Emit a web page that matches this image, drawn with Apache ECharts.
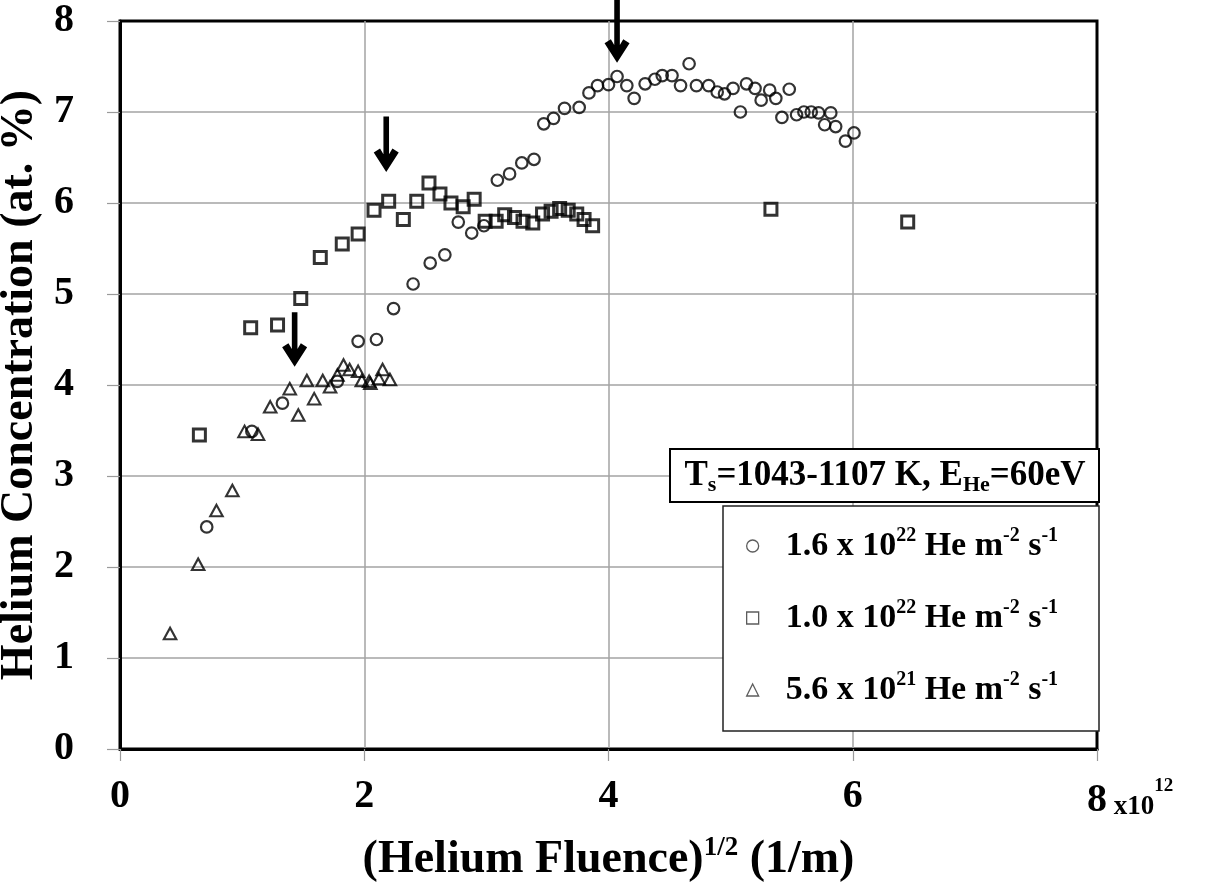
<!DOCTYPE html>
<html>
<head>
<meta charset="utf-8">
<script src="https://cdn.jsdelivr.net/npm/echarts@6/dist/echarts.min.js"></script>
<style>
  html, body { margin: 0; padding: 0; background: #fff; }
  #chart { width: 1210px; height: 886px; }
</style>
</head>
<body>
<div id="chart"></div>
<script>
// x: (helium fluence)^1/2 in units of 1e12 m^-1, y: helium concentration (at. %)
const flux16 = [
  [0.71, 2.44], [1.08, 3.49], [1.33, 3.80], [1.78, 4.04], [1.95, 4.48], [2.10, 4.50],
  [2.24, 4.84], [2.40, 5.11], [2.54, 5.34], [2.66, 5.43], [2.77, 5.79], [2.88, 5.67],
  [2.98, 5.75], [3.09, 6.25], [3.19, 6.32], [3.29, 6.44], [3.39, 6.48], [3.47, 6.87],
  [3.55, 6.93], [3.64, 7.04], [3.76, 7.05], [3.84, 7.21], [3.91, 7.29], [4.00, 7.30],
  [4.07, 7.39], [4.15, 7.29], [4.21, 7.15], [4.30, 7.31], [4.38, 7.36], [4.44, 7.40],
  [4.52, 7.40], [4.59, 7.29], [4.66, 7.53], [4.72, 7.29], [4.82, 7.29], [4.89, 7.22],
  [4.95, 7.20], [5.02, 7.26], [5.08, 7.00], [5.13, 7.31], [5.20, 7.26], [5.25, 7.13],
  [5.32, 7.24], [5.37, 7.15], [5.42, 6.94], [5.48, 7.25], [5.54, 6.97], [5.60, 7.00],
  [5.66, 7.00], [5.72, 6.99], [5.77, 6.86], [5.82, 6.99], [5.86, 6.84], [5.94, 6.68],
  [6.01, 6.77]
];
const flux10 = [
  [0.65, 3.45], [1.07, 4.63], [1.29, 4.66], [1.48, 4.95], [1.64, 5.40], [1.82, 5.55],
  [1.95, 5.66], [2.08, 5.92], [2.20, 6.02], [2.32, 5.82], [2.43, 6.02], [2.53, 6.22],
  [2.62, 6.10], [2.71, 6.00], [2.81, 5.96], [2.90, 6.04], [2.99, 5.80], [3.08, 5.80],
  [3.15, 5.87], [3.23, 5.84], [3.30, 5.80], [3.38, 5.78], [3.46, 5.88], [3.53, 5.91],
  [3.60, 5.94], [3.67, 5.92], [3.74, 5.88], [3.80, 5.82], [3.87, 5.75], [5.33, 5.93],
  [6.45, 5.79]
];
const flux56 = [
  [0.41, 1.27], [0.64, 2.03], [0.79, 2.62], [0.92, 2.84], [1.02, 3.49], [1.13, 3.46],
  [1.23, 3.76], [1.39, 3.96], [1.46, 3.67], [1.53, 4.05], [1.59, 3.85], [1.66, 4.05],
  [1.72, 3.98], [1.78, 4.11], [1.83, 4.22], [1.88, 4.17], [1.95, 4.15], [1.98, 4.05],
  [2.04, 4.04], [2.05, 4.02], [2.12, 4.07], [2.15, 4.17], [2.21, 4.06]
];

// Legend entries: mantissa part and exponent of the flux
const seriesNames = ['flux-1.6e22', 'flux-1.0e22', 'flux-5.6e21'];
const fluxMantissa = ['1.6 x 10', '1.0 x 10', '5.6 x 10'];
const fluxExponent = ['22', '22', '21'];

// Saturation markers: x position, arrow tail and arrow tip (data units)
const arrowX = [4.07, 2.18, 1.43];
const arrowTop = [8.24, 6.95, 4.80];
const arrowTip = [7.54, 6.34, 4.20];

const FONT = '"Liberation Serif", "Times New Roman", serif';
const bold = { fontFamily: FONT, fontWeight: 'bold', color: '#000' };

const markerBase = { color: 'rgba(0,0,0,0)', borderColor: '#000' };

const chart = echarts.init(document.getElementById('chart'), null, { renderer: 'canvas' });

chart.setOption({
  animation: false,
  backgroundColor: '#fff',
  grid: {
    left: 120, right: 113, top: 21, bottom: 137,
    containLabel: false, outerBoundsMode: 'none',
    show: true, borderColor: '#000', borderWidth: 3, backgroundColor: 'transparent'
  },
  xAxis: {
    type: 'value', min: 0, max: 8, interval: 2,
    axisLine: { show: true, onZero: false, lineStyle: { color: '#000', width: 3 } },
    axisTick: { show: true, length: 12, lineStyle: { color: '#9a9a9a', width: 1.2 } },
    splitLine: { show: true, showMinLine: false, showMaxLine: false, lineStyle: { color: '#a3a3a3', width: 1.5 } },
    axisLabel: {
      ...bold, fontSize: 40, margin: 28,
      formatter: v => v === 8 ? '{pad|}{n|8}{x| x10}{sup|12}' : String(v),
      rich: {
        pad: { width: 66 },
        n: { ...bold, fontSize: 40, lineHeight: 44, verticalAlign: 'bottom' },
        x: { ...bold, fontSize: 27, lineHeight: 34, verticalAlign: 'bottom' },
        sup: { ...bold, fontSize: 19, lineHeight: 37, verticalAlign: 'top' }
      }
    },
    name: '(Helium Fluence){sup|1/2} (1/m)',
    nameLocation: 'middle', nameGap: 86,
    nameTextStyle: {
      ...bold, fontSize: 46, lineHeight: 50,
      rich: { sup: { ...bold, fontSize: 27, lineHeight: 40, verticalAlign: 'top' } }
    }
  },
  yAxis: {
    type: 'value', min: 0, max: 8, interval: 1,
    axisLine: { show: true, onZero: false, lineStyle: { color: '#000', width: 3 } },
    axisTick: { show: true, length: 13, lineStyle: { color: '#9a9a9a', width: 1.2 } },
    splitLine: { show: true, showMinLine: false, showMaxLine: false, lineStyle: { color: '#a3a3a3', width: 1.5 } },
    axisLabel: { ...bold, fontSize: 40, margin: 46 },
    name: 'Helium Concentration (at. %)',
    nameLocation: 'middle', nameRotate: 90, nameGap: 64,
    nameTextStyle: { ...bold, fontSize: 46 }
  },
  legend: {
    orient: 'vertical', left: 746, top: 526, padding: 0,
    itemGap: 32, itemWidth: 12, itemHeight: 12, z: 100,
    selectedMode: false,
    data: seriesNames,
    itemStyle: { color: 'rgba(0,0,0,0)', borderColor: '#333', borderWidth: 1.3 },
    formatter: name => {
      const i = seriesNames.indexOf(name);
      return '{g|}{b|' + fluxMantissa[i] + '}{sup|' + fluxExponent[i] + '}{b| He m}{sup|-2}{b| s}{sup|-1}';
    },
    textStyle: {
      ...bold, fontSize: 34, lineHeight: 40,
      rich: {
        g: { width: 22 },
        b: { ...bold, fontSize: 34, lineHeight: 40 },
        sup: { ...bold, fontSize: 20, lineHeight: 36, verticalAlign: 'top' }
      }
    }
  },
  series: [
    {
      name: seriesNames[0], type: 'scatter', data: flux16,
      symbol: 'circle', symbolSize: 11.5,
      itemStyle: { ...markerBase, borderWidth: 2.2 }
    },
    {
      name: seriesNames[1], type: 'scatter', data: flux10,
      symbol: 'rect', symbolSize: 12,
      itemStyle: { ...markerBase, borderWidth: 3 }
    },
    {
      name: seriesNames[2], type: 'scatter', data: flux56,
      symbol: 'triangle', symbolSize: [12.5, 11.5],
      itemStyle: { ...markerBase, borderWidth: 2.1 }
    }
  ]
});

// Boxes, condition label and saturation arrows
function buildGraphics() {
  const els = [];
  els.push({
    type: 'rect', z: 50,
    shape: { x: 670, y: 449, width: 429, height: 53 },
    style: { fill: '#fff', stroke: '#000', lineWidth: 2 }
  });
  els.push({
    type: 'text', z: 51,
    style: {
      x: 885, y: 476, align: 'center', verticalAlign: 'middle',
      text: '{m|T}{s|s}{m|=1043-1107 K, E}{s|He}{m|=60eV}',
      rich: {
        m: { ...bold, fontSize: 35, lineHeight: 40 },
        s: { ...bold, fontSize: 22, lineHeight: 22, verticalAlign: 'bottom' }
      }
    }
  });
  els.push({
    type: 'rect', z: 50,
    shape: { x: 723, y: 506, width: 376, height: 225 },
    style: { fill: '#fff', stroke: '#222', lineWidth: 1.5 }
  });
  for (let i = 0; i < arrowX.length; i++) {
    const tip = chart.convertToPixel({ gridIndex: 0 }, [arrowX[i], arrowTip[i]]);
    const top = chart.convertToPixel({ gridIndex: 0 }, [arrowX[i], arrowTop[i]]);
    const tx = tip[0], ty = tip[1], L = ty - top[1];
    const rel = [
      [0, 0], [-12.5, -19.5], [-6.2, -23.5], [-2.8, -17.8], [-2.8, -L],
      [2.8, -L], [2.8, -17.8], [6.2, -23.5], [12.5, -19.5]
    ];
    els.push({
      type: 'polygon', z: 60,
      shape: { points: rel.map(p => [tx + p[0], ty + p[1]]) },
      style: { fill: '#000' }
    });
  }
  return els;
}

chart.setOption({ graphic: { elements: buildGraphics() } });
</script>
</body>
</html>
